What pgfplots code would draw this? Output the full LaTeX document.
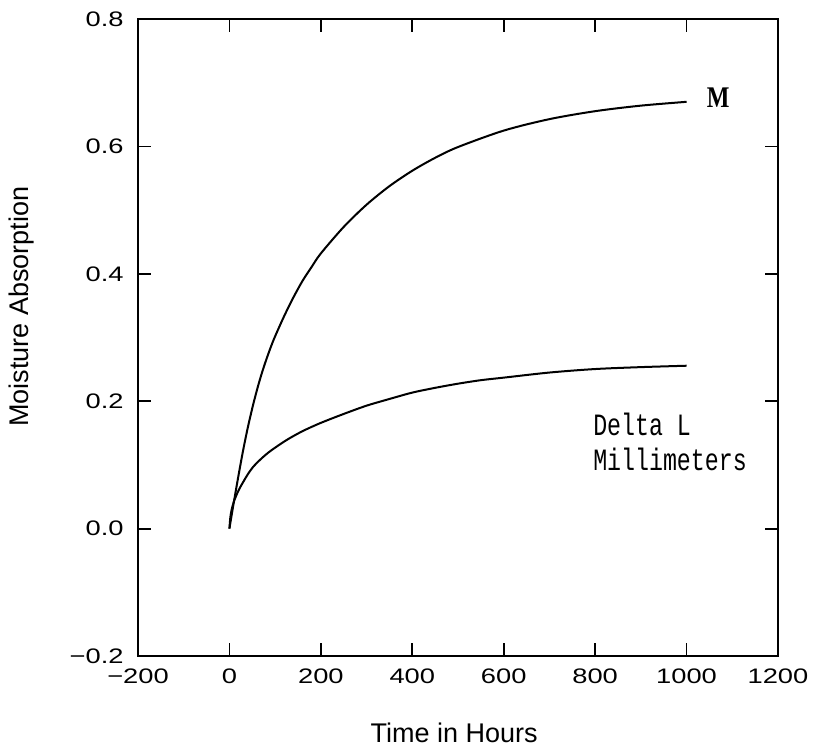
\documentclass[border=0pt]{standalone}
\usepackage{fontspec}
\setmainfont{Liberation Sans}
\newfontfamily\tickfont[FakeStretch=1.3]{Liberation Sans}
\newfontfamily\mfont[FakeStretch=0.8]{Liberation Serif}
\newfontfamily\monofont[FakeStretch=0.75]{Liberation Mono}
\usepackage{pgfplots}
\pgfplotsset{compat=1.18}

\begin{document}
\begin{tikzpicture}
\begin{axis}[
    at={(0,0)}, anchor=south west,
    scale only axis,
    width=320pt, height=318.5pt,
    xmin=-200, xmax=1200,
    ymin=-0.2, ymax=0.8,
    xtick={-200,0,200,400,600,800,1000,1200},
    xticklabels={−200,0,200,400,600,800,1000,1200},
    ytick={-0.2,0,0.2,0.4,0.6,0.8},
    yticklabels={−0.2,0.0,0.2,0.4,0.6,0.8},
    tick align=inside,
    xtick pos=both, ytick pos=both,
    xticklabel pos=left, yticklabel pos=left,
    major tick length=6.5pt,
    tick style={line width=0.9pt, black},
    axis line style={line width=1pt},
    ticklabel style={font=\tickfont\fontsize{10.5}{12}\selectfont, inner sep=0pt},
    xticklabel style={yshift=-6pt, anchor=north},
    yticklabel style={xshift=-7pt, anchor=east},
    xlabel={Time in Hours},
    ylabel={Moisture Absorption},
    label style={font=\fontsize{13.5}{15}\selectfont},
    xlabel style={at={(axis description cs:0.494,0)}, yshift=-38.5pt, anchor=center},
    ylabel style={at={(axis description cs:0,0.548)}, yshift=58pt, anchor=center},
    clip=false,
]
% M
\addplot[black, line width=1pt, smooth, tension=0.5] coordinates {
    (0,0) (10,0.043) (20,0.084) (30,0.123) (40,0.158) (50,0.189)
    (60,0.217) (70,0.242) (80,0.264) (90,0.284) (100,0.302)
    (120,0.334) (140,0.363) (160,0.389) (180,0.411) (200,0.432)
    (250,0.4736) (300,0.5085) (350,0.5376) (400,0.5618) (450,0.5821)
    (500,0.5990) (600,0.6248) (700,0.6428) (800,0.6553) (900,0.6640)
    (1000,0.670)
};
% Delta L
\addplot[black, line width=1pt, smooth, tension=0.5] coordinates {
    (0,0) (2,0.018) (5,0.030) (10,0.043) (20,0.060) (30,0.073)
    (40,0.085) (52,0.097) (70,0.110) (90,0.122) (125,0.139)
    (160,0.153) (200,0.166) (250,0.180) (300,0.193) (350,0.2035)
    (400,0.2135) (450,0.221) (500,0.2275) (550,0.233) (600,0.237)
    (700,0.245) (800,0.2505) (900,0.2535) (1000,0.2557)
};
\node[font=\mfont\bfseries\fontsize{15}{17}\selectfont] at (axis cs:1069,0.676) {M};
\node[anchor=west, inner sep=0pt, font=\monofont\fontsize{15.5}{17}\selectfont] at (axis cs:795,0.163) {Delta L};
\node[anchor=west, inner sep=0pt, font=\monofont\fontsize{15.5}{17}\selectfont] at (axis cs:795,0.108) {Millimeters};
\end{axis}
\pgfresetboundingbox
\useasboundingbox (-69pt,-45pt) rectangle (338.5pt,328pt);
\end{tikzpicture}
\end{document}
